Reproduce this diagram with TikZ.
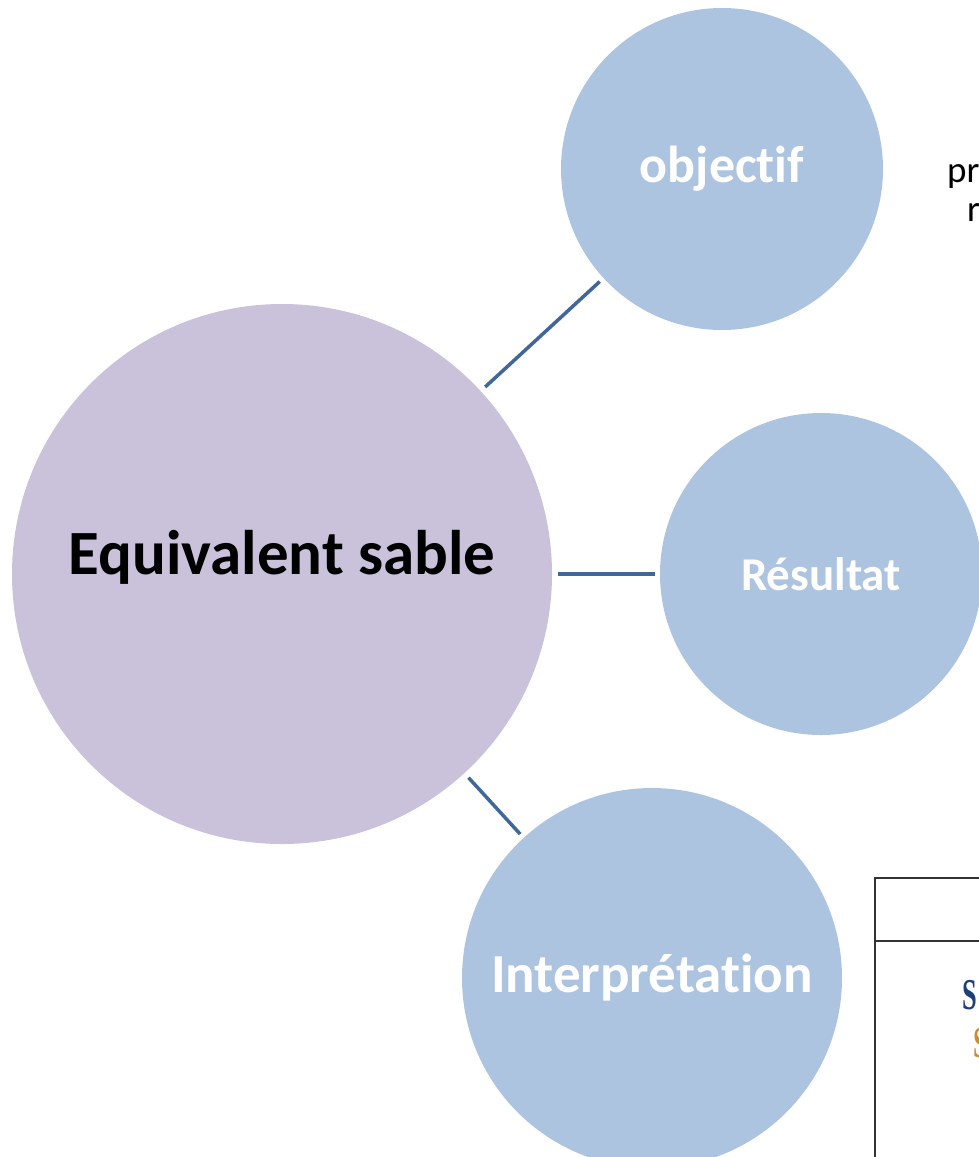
\documentclass[tikz,border=0pt]{standalone}
\usepackage{fontspec}
\setmainfont{Carlito}[Ligatures={NoCommon,NoDiscretionary,NoContextual}]
\newfontfamily\tabfont{Liberation Serif}
\usetikzlibrary{positioning}

\definecolor{centrefill}{HTML}{CAC1DB}
\definecolor{leaffill}{HTML}{ADC4E0}
\definecolor{linkblue}{HTML}{41679A}
\definecolor{tabblue}{HTML}{1F3F7A}
\definecolor{taborange}{HTML}{D08A2C}

\tikzset{
	centre/.style={circle, fill=centrefill, inner sep=0pt, minimum size=540pt,
		text height=44pt, text depth=44pt,
		font=\bfseries\fontsize{63}{70}\selectfont},
	leaf/.style={circle, fill=leaffill, inner sep=0pt, text=white},
	link/.style={draw=linkblue, line width=3.5pt, shorten <=6pt, shorten >=5pt},
	cut/.style={anchor=base west, inner sep=0pt, font=\fontsize{37}{42}\selectfont},
}

\begin{document}
\begin{tikzpicture}[x=1pt,y=-1pt]
	\useasboundingbox (0,0) rectangle (979,1157);
	\clip (0,0) rectangle (979,1157);
	\node [centre] at (282,574) (ES) {Equivalent sable};
	\node [leaf, minimum size=322pt, font=\bfseries\fontsize{52}{58}\selectfont] at (722,169) (OBJ) {objectif};
	\node [leaf, minimum size=322pt, font=\bfseries\fontsize{47}{54}\selectfont] at (821,574) (RES) {Résultat};
	\node [leaf, minimum size=380pt, font=\bfseries\fontsize{55}{62}\selectfont] at (652,978) (INT) {Interprétation};
	\draw [link] (ES) -- (OBJ);
	\draw [link] (ES) -- (RES);
	\draw [link] (ES) -- (INT);
	% texte coupé à droite
	\node [cut] at (947,182) (P1) {pr};
	\node [cut] at (967,221) (P2) {r};
	% tableau coupé en bas à droite
	\draw [line width=2pt, draw=black!80] (1000,878) -- (875,878) -- (875,1170);
	\draw [line width=2pt, draw=black!80] (875,941) -- (1000,941);
	\node [anchor=base west, inner sep=0pt, text=tabblue, font=\tabfont\bfseries\fontsize{44}{48}\selectfont, xscale=0.6] at (962,1009) (S1) {S};
	\node [anchor=base west, inner sep=0pt, text=taborange, font=\tabfont\bfseries\fontsize{44}{48}\selectfont, xscale=0.6] at (973,1057) (S2) {S};
\end{tikzpicture}
\end{document}
